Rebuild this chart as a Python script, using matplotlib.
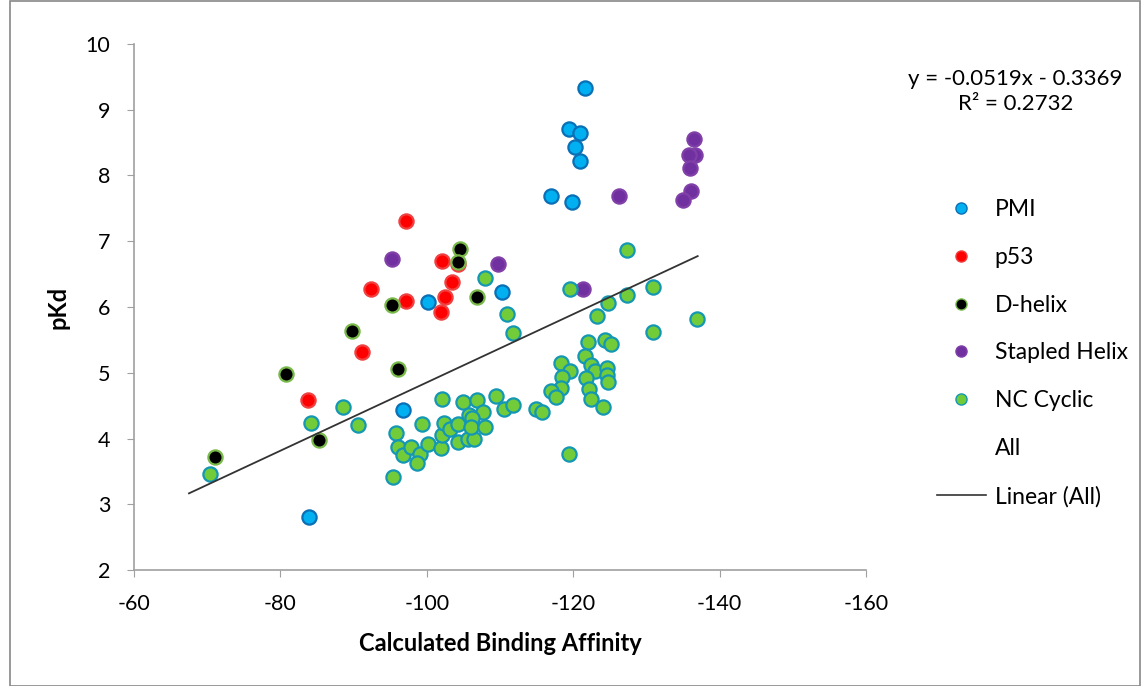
import matplotlib
matplotlib.use('Agg')

import matplotlib.pyplot as plt
from matplotlib.lines import Line2D
from matplotlib.patches import Rectangle
import numpy as np

# ==========================================
# Data (calculated binding affinity vs pKd)
# ==========================================
pmi_x = [-121.6, -119.4, -120.9, -120.2, -120.9, -116.9, -119.8, -100.1, -110.3, -96.8, -83.9]
pmi_y = [9.33, 8.71, 8.65, 8.43, 8.22, 7.69, 7.60, 6.08, 6.23, 4.43, 2.81]

p53_x = [-97.2, -102.0, -104.3, -103.4, -97.2, -102.5, -101.9, -92.4, -91.1, -83.7]
p53_y = [7.31, 6.70, 6.65, 6.38, 6.09, 6.15, 5.92, 6.27, 5.32, 4.59]

dhelix_x = [-104.5, -104.2, -106.9, -95.3, -89.8, -80.7, -85.2, -71.1, -96.1]
dhelix_y = [6.88, 6.68, 6.15, 6.03, 5.64, 4.98, 3.98, 3.72, 5.06]

stapled_x = [-95.3, -109.7, -121.3, -126.2, -136.5, -136.6, -135.8, -135.9, -136.1, -135.0]
stapled_y = [6.73, 6.65, 6.27, 7.69, 8.56, 8.31, 8.31, 8.11, 7.76, 7.63]

nc_x = [-70.4, -84.2, -88.6, -90.6, -95.4, -108.0, -110.9, -111.7,
        -102.0, -104.9, -106.9, -107.7, -109.5, -110.6, -111.7, -114.9, -115.7,
        -99.3, -95.8, -96.0, -96.7, -97.9, -99.0, -98.6, -100.2, -101.9, -102.0,
        -102.4, -103.1, -104.3, -104.2, -105.6, -106.5, -105.8, -106.2, -106.0, -107.9,
        -130.9, -122.0, -124.3, -125.1, -118.3, -119.5, -121.6, -122.4, -123.0,
        -124.6, -124.6, -124.7, -121.7, -118.4, -118.3, -117.0, -117.7, -122.2,
        -122.4, -124.0, -119.4,
        -127.4, -119.6, -124.7, -127.4, -130.9, -123.2, -136.9]
nc_y = [3.46, 4.24, 4.48, 4.21, 3.41, 6.44, 5.89, 5.60,
        4.60, 4.56, 4.59, 4.40, 4.65, 4.45, 4.51, 4.45, 4.40,
        4.22, 4.08, 3.87, 3.75, 3.87, 3.76, 3.63, 3.92, 3.86, 4.05,
        4.23, 4.14, 4.22, 3.95, 3.99, 3.99, 4.36, 4.31, 4.18, 4.18,
        5.62, 5.47, 5.50, 5.44, 5.15, 5.03, 5.25, 5.12, 5.03,
        5.07, 4.97, 4.86, 4.92, 4.94, 4.77, 4.72, 4.63, 4.75,
        4.60, 4.48, 3.76,
        6.87, 6.27, 6.06, 6.18, 6.30, 5.87, 5.82]

# trendline (from the equation shown on the chart)
slope = -0.0519
intercept = -0.3369
r2 = 0.2732
trend_x = [-67.5, -137.0]

x_ticks = [-60, -80, -100, -120, -140, -160]
y_ticks = [2, 3, 4, 5, 6, 7, 8, 9, 10]

# ==========================================
# Figure
# ==========================================
plt.rcParams['font.family'] = ['Lato', 'DejaVu Sans']
plt.rcParams['axes.unicode_minus'] = False

fig = plt.figure(figsize=(11.46, 6.86), dpi=100)
ax = fig.add_axes([0.117, 0.169, 0.6387, 0.767])

series = [
    (pmi_x, pmi_y, '#00B0F0', '#0A6FB5', 'PMI'),
    (p53_x, p53_y, '#FF0000', '#F04040', 'p53'),
    (dhelix_x, dhelix_y, '#000000', '#79B94A', 'D-helix'),
    (stapled_x, stapled_y, '#7030A0', '#8040A8', 'Stapled Helix'),
    (nc_x, nc_y, '#72CC3A', '#1497B4', 'NC Cyclic'),
]
for xs, ys, fc, ec, lab in series:
    ax.scatter(xs, ys, s=105, c=fc, edgecolors=ec, linewidths=1.6, zorder=3)

tx = np.array(trend_x)
ax.plot(tx, slope * tx + intercept, color='#333333', linewidth=1.3, zorder=4)

ax.set_xlim(-60, -160)
ax.set_ylim(2, 10)
ax.set_xticks(x_ticks)
ax.set_yticks(y_ticks)
ax.tick_params(labelsize=15.5, length=5, color='#A0A0A0', direction='out')
ax.tick_params(axis='x', pad=12)
ax.tick_params(axis='y', pad=12)
for side in ['top', 'right']:
    ax.spines[side].set_visible(False)
for side in ['left', 'bottom']:
    ax.spines[side].set_color('#A0A0A0')
    ax.spines[side].set_linewidth(1.2)

ax.set_xlabel('Calculated Binding Affinity', fontsize=17, fontweight='bold', labelpad=13)
ax.set_ylabel('pKd', fontsize=17, fontweight='bold', labelpad=12)

# equation text
fig.text(0.886, 0.885, f'y = {slope}x - {abs(intercept)}', fontsize=16, ha='center', va='center')
fig.text(0.886, 0.849, f'R² = {r2}', fontsize=16, ha='center', va='center')

# legend
handles = []
for xs, ys, fc, ec, lab in series:
    handles.append(Line2D([], [], marker='o', linestyle='none', markersize=8,
                          markerfacecolor=fc, markeredgecolor=ec, markeredgewidth=1, label=lab))
handles.append(Line2D([], [], linestyle='none', label='All'))
handles.append(Line2D([], [], color='#333333', linewidth=1.2, label='Linear (All)'))
fig.legend(handles=handles, loc='upper left', bbox_to_anchor=(0.8, 0.74),
           frameon=False, fontsize=16.5, labelspacing=1.17, handlelength=2.1,
           handletextpad=0.4)

# outer chart border
fig.patches.append(Rectangle((0.009, 0.0), 0.986, 0.999, transform=fig.transFigure,
                             fill=False, edgecolor='#888888', linewidth=1.2))

plt.savefig('out.png', dpi=100)
